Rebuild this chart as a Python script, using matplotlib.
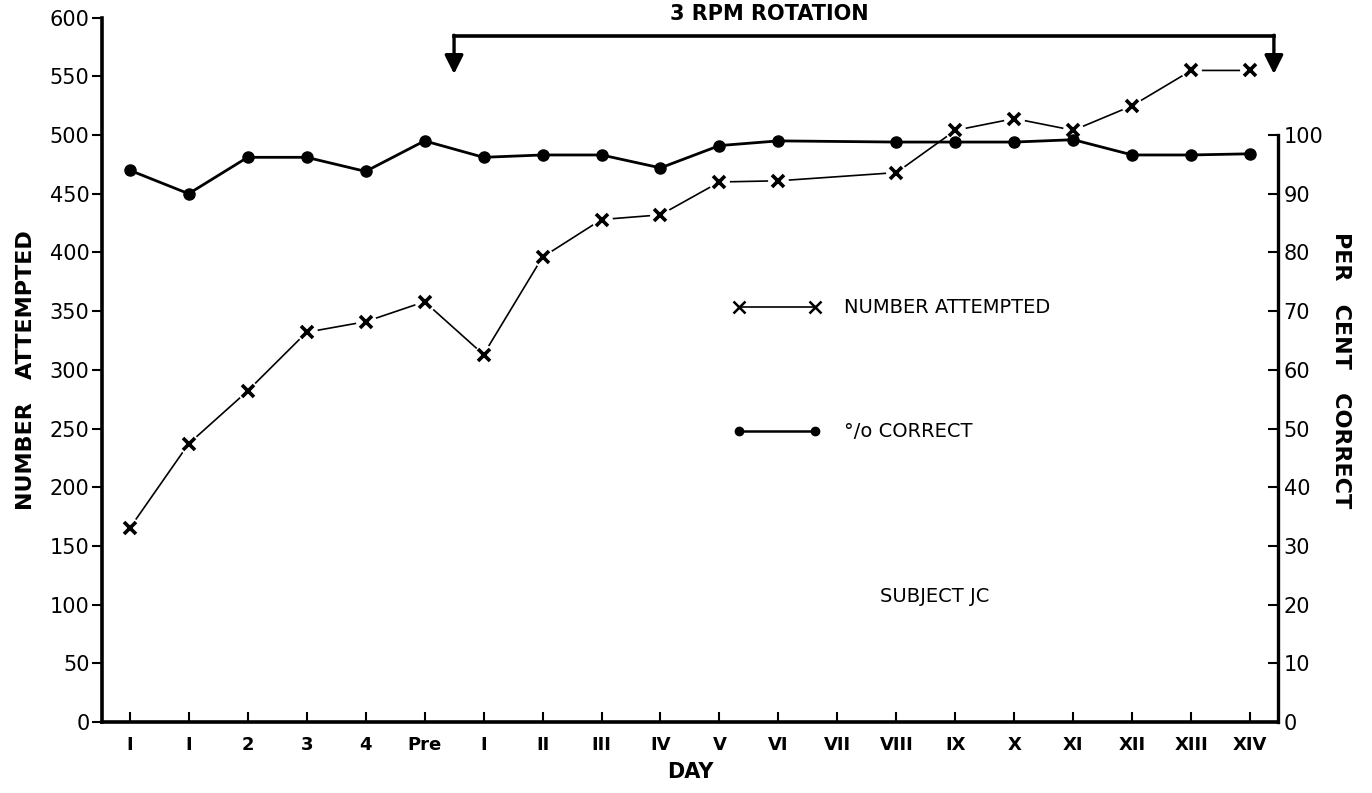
import numpy as np
import matplotlib
matplotlib.use("Agg")
import matplotlib.pyplot as plt
from matplotlib.lines import Line2D

# day labels along the x axis
days = ["I", "I", "2", "3", "4", "Pre", "I", "II", "III", "IV", "V", "VI",
        "VII", "VIII", "IX", "X", "XI", "XII", "XIII", "XIV"]

# number of problems attempted (VII not recorded)
attempted = [165, 237, 282, 332, 341, 358, 313, 396, 428, 432, 460, 461,
             np.nan, 468, 504, 514, 504, 525, 555, 555]

# per cent correct (VII not recorded)
pct_correct = [94.0, 90.0, 96.2, 96.2, 93.8, 99.0, 96.2, 96.6, 96.6, 94.4,
               98.2, 99.0, np.nan, 98.8, 98.8, 98.8, 99.2, 96.6, 96.6, 96.8]

left_ticks = [0, 50, 100, 150, 200, 250, 300, 350, 400, 450, 500, 550, 600]
right_ticks = [0, 10, 20, 30, 40, 50, 60, 70, 80, 90, 100]

# rotation period: starts between Pre and I, ends after XIV
rot_start = 5.5
rot_end = 19.4

x = np.arange(len(days))
att = np.array(attempted, dtype=float)
pct = np.array(pct_correct, dtype=float)
m_att = np.isfinite(att)
m_pct = np.isfinite(pct)

fig = plt.figure(figsize=(13.72, 7.93), dpi=100)
ax = fig.add_axes([0.0743, 0.0895, 0.8572, 0.8883])
ax2 = ax.twinx()

ax.set_xlim(-0.47, 19.47)
ax.set_ylim(0, 600)
ax2.set_ylim(0, 120)

# number attempted: thin line, gaps around the x marks
ax.plot(x[m_att], att[m_att], color="black", lw=1.2, zorder=3)
ax.plot(x[m_att], att[m_att], ls="none", marker="o", ms=15, mfc="white",
        mec="none", zorder=4)
ax.plot(x[m_att], att[m_att], ls="none", marker="x", ms=9, mew=2.6,
        color="black", zorder=5)

# per cent correct on the right scale
ax2.plot(x[m_pct], pct[m_pct], color="black", lw=2.0, marker="o", ms=8,
         zorder=5)

# spines
for a in (ax, ax2):
    a.spines["top"].set_visible(False)
ax.spines["right"].set_visible(False)
ax2.spines["left"].set_visible(False)
ax2.spines["bottom"].set_visible(False)
ax.spines["left"].set_linewidth(2.6)
ax.spines["bottom"].set_linewidth(2.6)
ax2.spines["right"].set_linewidth(2.4)
ax2.spines["right"].set_bounds(0, 100)

ax.set_xticks(x)
ax.set_xticklabels(days, fontsize=13, fontweight="bold")
ax.tick_params(axis="x", direction="in", length=7, width=1.5, pad=10)
ax.set_yticks(left_ticks)
ax.set_yticklabels([str(t) for t in left_ticks], fontsize=15)
ax.tick_params(axis="y", direction="out", length=7, width=1.5, pad=2)
ax2.set_yticks(right_ticks)
ax2.set_yticklabels([str(t) for t in right_ticks], fontsize=15)
ax2.tick_params(axis="y", direction="in", length=7, width=1.5, pad=4)

ax.set_ylabel("NUMBER   ATTEMPTED", fontsize=16, fontweight="bold", labelpad=10)
ax2.set_ylabel("PER   CENT   CORRECT", fontsize=16, fontweight="bold",
               rotation=270, labelpad=20)
ax.set_xlabel("DAY", fontsize=15, fontweight="bold", labelpad=6)

# rotation bracket
bar_y = 584
tip_y = 552
ax.plot([rot_start, rot_end], [bar_y, bar_y], color="black", lw=2.6,
        clip_on=False, zorder=6)
for xr in (rot_start, rot_end):
    ax.annotate("", xy=(xr, tip_y), xytext=(xr, bar_y + 1),
                arrowprops=dict(arrowstyle="-|>", color="black", lw=2.4,
                                mutation_scale=28, shrinkA=0, shrinkB=0),
                annotation_clip=False, zorder=6)
fig.text(0.561, 0.982, "3 RPM ROTATION", fontsize=15, fontweight="bold",
         ha="center", va="center")

# legend
h_att = Line2D([], [], color="black", lw=1.2, marker="x", ms=8, mew=1.8)
h_pct = Line2D([], [], color="black", lw=1.8, marker="o", ms=6)
ax.legend([h_att, h_pct], ["NUMBER ATTEMPTED", "°/o CORRECT"], numpoints=2,
          loc="center left", bbox_to_anchor=(0.537, 0.50), frameon=False,
          fontsize=14, handlelength=4.5, handletextpad=1.2, labelspacing=5.4,
          borderpad=0, borderaxespad=0)

ax.text(0.708, 0.178, "SUBJECT JC", transform=ax.transAxes, fontsize=14,
        ha="center", va="center")

fig.savefig("out.png", dpi=100)
